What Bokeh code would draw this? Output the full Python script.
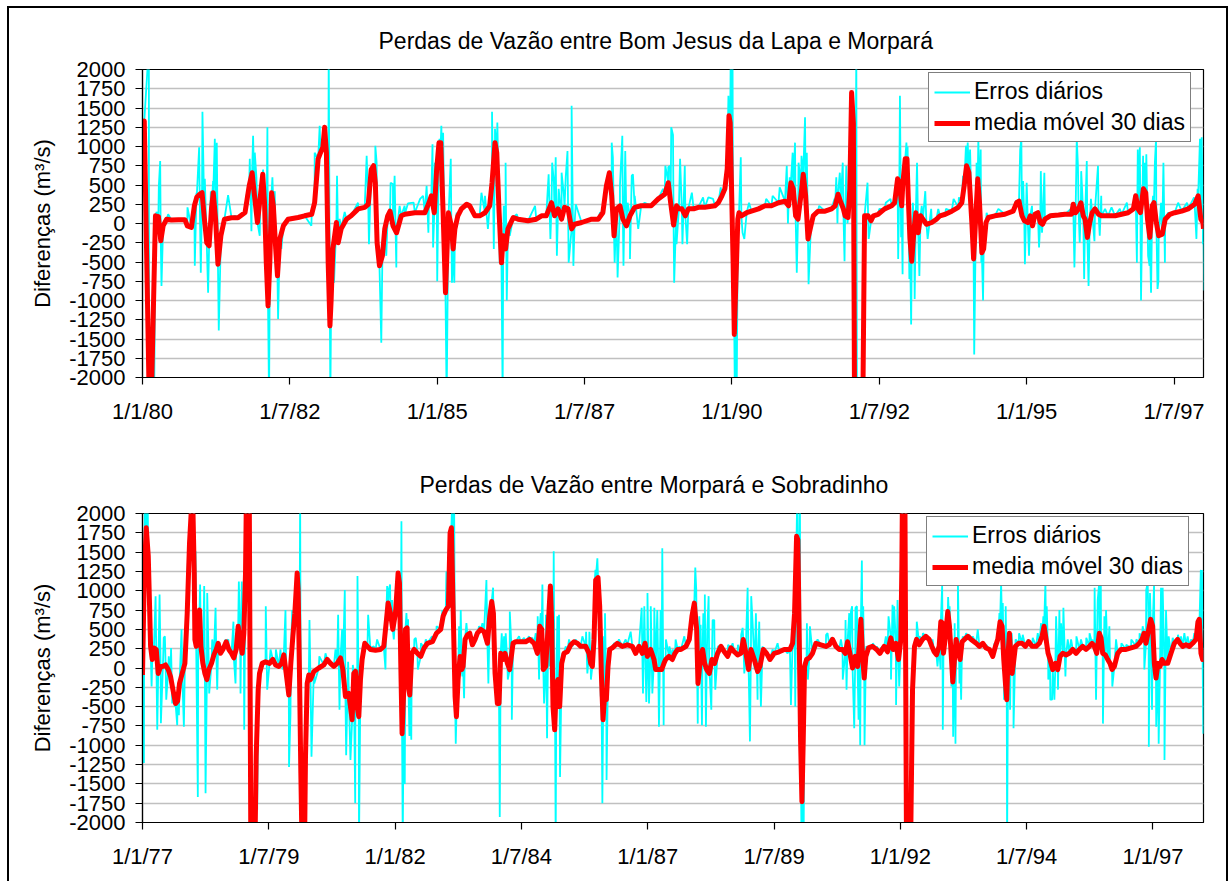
from bokeh.plotting import figure
from bokeh.models import FixedTicker, Legend, LegendItem
from bokeh.layouts import column
from bokeh.embed import file_html
from bokeh.resources import INLINE

# ---------------- data (decimal years, m3/s) ----------------
top_title = "Perdas de Vazão entre Bom Jesus da Lapa e Morpará"
bot_title = "Perdas de Vazão entre Morpará e Sobradinho"
series_daily = "Erros diários"
series_ma = "media móvel 30 dias"
y_label = "Diferenças (m³/s)"

top_tick_years = [1980.0, 1982.5, 1985.0, 1987.5, 1990.0, 1992.5, 1995.0, 1997.5]
top_tick_labels = ["1/1/80", "1/7/82", "1/1/85", "1/7/87", "1/1/90", "1/7/92", "1/1/95", "1/7/97"]
bot_tick_years = [1977.0, 1979.5, 1982.0, 1984.5, 1987.0, 1989.5, 1992.0, 1994.5, 1997.0]
bot_tick_labels = ["1/1/77", "1/7/79", "1/1/82", "1/7/84", "1/1/87", "1/7/89", "1/1/92", "1/7/94", "1/1/97"]
y_ticks = [-2000, -1750, -1500, -1250, -1000, -750, -500, -250, 0, 250, 500, 750,
           1000, 1250, 1500, 1750, 2000]

# Bom Jesus da Lapa - Morpara : 30-day moving average
bjl_ma_year = [
    1980.00, 1980.03, 1980.11, 1980.15, 1980.22, 1980.27, 1980.31, 1980.35, 1980.41, 1980.49,
    1980.61, 1980.72, 1980.76, 1980.83, 1980.88, 1980.92, 1980.97, 1981.01, 1981.05, 1981.09,
    1981.13, 1981.17, 1981.20, 1981.24, 1981.28, 1981.33, 1981.39, 1981.51, 1981.62, 1981.74,
    1981.81, 1981.86, 1981.90, 1981.95, 1982.00, 1982.04, 1982.07, 1982.10, 1982.13, 1982.16,
    1982.19, 1982.22, 1982.26, 1982.29, 1982.33, 1982.39, 1982.47, 1982.64, 1982.75, 1982.87,
    1982.92, 1982.98, 1983.02, 1983.06, 1983.09, 1983.12, 1983.15, 1983.18, 1983.20, 1983.23,
    1983.29, 1983.32, 1983.37, 1983.46, 1983.54, 1983.66, 1983.77, 1983.83, 1983.88, 1983.92,
    1983.95, 1983.98, 1984.02, 1984.07, 1984.11, 1984.16, 1984.20, 1984.25, 1984.31, 1984.39,
    1984.45, 1984.62, 1984.79, 1984.86, 1984.90, 1984.95, 1984.99, 1985.03, 1985.06, 1985.10,
    1985.14, 1985.19, 1985.24, 1985.27, 1985.30, 1985.35, 1985.41, 1985.50, 1985.55, 1985.64,
    1985.72, 1985.81, 1985.89, 1985.93, 1985.98, 1986.01, 1986.05, 1986.09, 1986.12, 1986.16,
    1986.20, 1986.29, 1986.37, 1986.54, 1986.68, 1986.77, 1986.85, 1986.94, 1986.99, 1987.05,
    1987.11, 1987.16, 1987.22, 1987.28, 1987.33, 1987.45, 1987.62, 1987.73, 1987.81, 1987.87,
    1987.92, 1987.96, 1988.00, 1988.04, 1988.10, 1988.15, 1988.21, 1988.27, 1988.35, 1988.46,
    1988.63, 1988.75, 1988.86, 1988.92, 1988.96, 1989.01, 1989.06, 1989.10, 1989.15, 1989.21,
    1989.26, 1989.35, 1989.43, 1989.54, 1989.71, 1989.77, 1989.83, 1989.88, 1989.92, 1989.95,
    1989.97, 1989.99, 1990.02, 1990.04, 1990.06, 1990.10, 1990.12, 1990.16, 1990.25, 1990.33,
    1990.45, 1990.56, 1990.67, 1990.79, 1990.90, 1990.96, 1991.00, 1991.04, 1991.08, 1991.12,
    1991.17, 1991.21, 1991.25, 1991.29, 1991.34, 1991.38, 1991.46, 1991.58, 1991.69, 1991.75,
    1991.80, 1991.85, 1991.89, 1991.92, 1991.97, 1992.00, 1992.03, 1992.06, 1992.08, 1992.22,
    1992.25, 1992.31, 1992.36, 1992.40, 1992.48, 1992.59, 1992.71, 1992.76, 1992.81, 1992.84,
    1992.88, 1992.90, 1992.94, 1992.97, 1992.99, 1993.02, 1993.05, 1993.09, 1993.12, 1993.16,
    1993.20, 1993.24, 1993.30, 1993.39, 1993.47, 1993.53, 1993.62, 1993.73, 1993.84, 1993.90,
    1993.94, 1993.98, 1994.02, 1994.07, 1994.10, 1994.14, 1994.17, 1994.20, 1994.24, 1994.27,
    1994.31, 1994.35, 1994.46, 1994.63, 1994.77, 1994.83, 1994.87, 1994.92, 1994.96, 1995.02,
    1995.06, 1995.10, 1995.14, 1995.19, 1995.23, 1995.27, 1995.31, 1995.40, 1995.54, 1995.65,
    1995.76, 1995.79, 1995.83, 1995.88, 1995.92, 1995.96, 1995.99, 1996.03, 1996.07, 1996.11,
    1996.16, 1996.22, 1996.27, 1996.38, 1996.50, 1996.61, 1996.72, 1996.81, 1996.85, 1996.89,
    1996.93, 1996.98, 1997.02, 1997.05, 1997.09, 1997.13, 1997.16, 1997.20, 1997.24, 1997.30,
    1997.35, 1997.43, 1997.51, 1997.63, 1997.74, 1997.85, 1997.91, 1997.955, 1997.99, 1998.00]
bjl_ma_value = [
    750, 1330, -2100, -2300, 100, 90, -225, -30, 56, 45,
    50, 50, -30, -50, 230, 340, 380, 400, 60, -250,
    -290, 190, 400, 60, -530, -160, 56, 75, 75, 143,
    490, 660, 360, 13, 360, 640, 270, -510, -1070, -500,
    400, 230, -330, -680, -200, -30, 56, 78, 100, 120,
    270, 840, 920, 990, 1250, 920, -510, -1330, -1000, -330,
    13, -250, -70, 56, 100, 190, 210, 250, 700, 750,
    530, -250, -550, -420, -70, 100, 160, -30, -120, 100,
    120, 140, 140, 270, 360, 140, 700, 1050, 1050, 140,
    -900, 140, -30, -330, -70, 100, 190, 250, 230, 100,
    100, 140, 230, 530, 1050, 920, 140, -510, -160, -330,
    -70, 78, 56, 35, 56, 100, 100, 270, 100, 190,
    56, 210, 190, -70, -10, 13, 56, 56, 140, 490,
    660, 360, -160, 190, 230, 56, -30, 100, 210, 230,
    230, 320, 380, 530, 270, -20, 230, 190, 190, 100,
    190, 190, 210, 210, 230, 270, 360, 450, 710, 1400,
    1310, 580, -510, -1440, -940, 56, 140, 100, 140, 160,
    190, 230, 230, 270, 290, 230, 530, 450, 100, 56,
    360, 640, 360, -200, -30, 100, 160, 160, 190, 230,
    380, 270, 190, 100, 78, 450, 1700, 1300, -2400, -2400,
    100, 100, 35, 100, 120, 190, 230, 270, 580, 530,
    230, 530, 840, 840, 360, -200, -490, -70, 140, -120,
    100, 56, -10, 13, 56, 100, 120, 160, 210, 270,
    490, 750, 660, 13, -460, 140, 580, 270, -380, -330,
    13, 78, 100, 120, 160, 270, 290, 100, 35, 13,
    100, -30, 120, 140, 13, -10, 56, 100, 110, 120,
    120, 250, 140, 190, 270, 100, 56, -180, 13, 140,
    190, 120, 100, 100, 100, 120, 140, 190, 360, 190,
    140, 450, 400, 56, -180, 230, 270, 13, -160, -140,
    56, 120, 140, 160, 190, 250, 360, 56, 13, -70]

# Bom Jesus da Lapa - Morpara : daily error peaks / troughs
bjl_day_year = [
    1980.108, 1980.198, 1980.238, 1980.277, 1980.300, 1980.322, 1980.379, 1980.435, 1980.763, 1980.887,
    1980.916, 1980.961, 1980.989, 1981.017, 1981.057, 1981.113, 1981.159, 1981.198, 1981.227, 1981.260,
    1981.294, 1981.452, 1981.566, 1981.763, 1981.820, 1981.848, 1981.876, 1981.905, 1981.933, 1981.989,
    1982.046, 1982.119, 1982.147, 1982.204, 1982.244, 1982.300, 1982.356, 1982.413, 1982.526, 1982.865,
    1982.921, 1983.006, 1983.034, 1983.159, 1983.187, 1983.249, 1983.300, 1983.345, 1983.430, 1983.656,
    1983.803, 1983.842, 1983.950, 1983.972, 1984.006, 1984.051, 1984.136, 1984.209, 1984.249, 1984.277,
    1984.306, 1984.362, 1984.447, 1984.503, 1984.60, 1984.71, 1984.76, 1984.82, 1984.85, 1984.92,
    1984.93, 1984.96, 1985.00, 1985.04, 1985.07, 1985.10, 1985.13, 1985.16, 1985.19, 1985.23,
    1985.25, 1985.29, 1985.33, 1985.47, 1985.75, 1985.81, 1985.86, 1985.93, 1985.96, 1985.98,
    1986.02, 1986.06, 1986.11, 1986.13, 1986.16, 1986.18, 1986.23, 1986.35, 1986.66, 1986.89,
    1986.92, 1986.95, 1986.98, 1987.01, 1987.03, 1987.06, 1987.11, 1987.15, 1987.18, 1987.21,
    1987.23, 1987.28, 1987.31, 1987.35, 1987.76, 1987.84, 1987.91, 1987.96, 1987.98, 1988.01,
    1988.06, 1988.10, 1988.14, 1988.16, 1988.19, 1988.23, 1988.27, 1988.30, 1988.32, 1988.35,
    1988.41, 1988.52, 1988.83, 1988.87, 1988.92, 1988.95, 1988.97, 1989.00, 1989.02, 1989.06,
    1989.12, 1989.16, 1989.20, 1989.24, 1989.32, 1989.51, 1989.60, 1989.68, 1989.81, 1989.94,
    1989.98, 1990.01, 1990.05, 1990.08, 1990.11, 1990.15, 1990.18, 1990.21, 1990.29, 1990.58,
    1990.69, 1990.81, 1990.93, 1990.95, 1990.98, 1991.03, 1991.07, 1991.10, 1991.13, 1991.15,
    1991.18, 1991.24, 1991.27, 1991.30, 1991.48, 1991.63, 1991.74, 1991.77, 1991.79, 1991.83,
    1991.86, 1991.88, 1991.91, 1991.94, 1991.96, 1992.015, 1992.11, 1992.12, 1992.30, 1992.32,
    1992.37, 1992.50, 1992.61, 1992.69, 1992.77, 1992.82, 1992.85, 1992.87, 1992.895, 1992.93,
    1992.96, 1992.98, 1993.01, 1993.04, 1993.07, 1993.10, 1993.14, 1993.18, 1993.22, 1993.28,
    1993.32, 1993.38, 1993.50, 1993.63, 1993.76, 1993.85, 1993.92, 1993.97, 1994.00, 1994.04,
    1994.08, 1994.11, 1994.15, 1994.18, 1994.22, 1994.23, 1994.26, 1994.32, 1994.52, 1994.82,
    1994.89, 1994.91, 1994.94, 1994.97, 1995.00, 1995.04, 1995.09, 1995.21, 1995.24, 1995.26,
    1995.30, 1995.42, 1995.59, 1995.75, 1995.81, 1995.85, 1995.87, 1995.90, 1995.925, 1995.94,
    1995.975, 1996.02, 1996.05, 1996.09, 1996.15, 1996.21, 1996.24, 1996.265, 1996.33, 1996.44,
    1996.58, 1996.70, 1996.83, 1996.87, 1996.885, 1996.92, 1996.94, 1996.975, 1997.00, 1997.03,
    1997.06, 1997.085, 1997.11, 1997.145, 1997.175, 1997.195, 1997.22, 1997.235, 1997.28, 1997.32,
    1997.345, 1997.40, 1997.57, 1997.72, 1997.84, 1997.88, 1997.90, 1997.94, 1997.97, 1997.99,
    1998.01]
bjl_day_value = [
    2300, -2300, 150, 490, 810, -810, 50, 120, 210, -550,
    400, 990, -640, 1450, 580, -900, 420, 550, 1100, 1050,
    -1390, 370, 100, 360, 840, -100, 1140, 920, 600, -160,
    700, 1250, -2300, 600, 420, -1240, -330, 0, 60, -30,
    920, 1270, 1100, 2300, -2300, -770, 620, 60, 150, 270,
    880, -270, 1010, 790, -300, -1550, -420, 530, 510, 620,
    -570, 230, 230, 260, 270, 320, 360, 490, -120, 1030,
    -310, 790, -750, 1100, 1270, 1180, -720, -2300, 50, 840,
    -770, -770, 140, 250, 400, 360, -70, 1450, -330, 1230,
    1310, -510, -2300, 230, 790, -1000, -160, 120, 230, 640,
    -200, 790, 530, 860, -420, 450, 660, 360, 600, 940,
    -510, 1530, -550, 250, 140, 360, 660, 1050, 860, -510,
    -700, 490, 1140, -550, 940, 270, -460, 620, 640, 360,
    -70, 270, 450, 750, 730, 750, 1250, 1150, -770, -270,
    840, -270, 750, -270, 400, 340, 340, 320, 470, 1660,
    2300, 2300, -2300, -2300, 60, 860, -120, -200, 270, 320,
    360, 470, 750, 0, 600, 920, 1050, -640, 790, 660,
    880, 1380, 920, -790, 230, 190, 320, 600, 0, 660,
    490, 790, -490, 750, 0, 400, 2300, -2300, 530, -200,
    100, 190, 270, 320, 450, -460, 1660, -180, -660, 840,
    1050, 1000, -720, -1310, 270, -980, 790, -680, 230, 420,
    -200, 190, 190, 190, 320, 340, 620, 1010, 1050, 960,
    -460, -1700, 790, 1100, 960, -510, -1000, 140, 190, 300,
    960, 1100, 550, -530, 530, -420, 230, -310, 680, -120,
    660, 120, 140, 190, -570, 1100, 750, -250, 680, 450,
    -720, 810, -810, 320, -230, 750, -160, 360, 190, 210,
    190, 270, 360, -510, 960, 990, -1000, 880, 790, 900,
    -420, -550, -900, 360, 790, 1100, -850, -750, 270, 790,
    -510, 140, 270, 270, 340, -200, 450, 1100, 1120, -270,
    -870]

# Morpara - Sobradinho : 30-day moving average
mor_ma_year = [
    1977.000, 1977.035, 1977.074, 1977.114, 1977.140, 1977.160, 1977.193, 1977.226, 1977.272, 1977.311,
    1977.358, 1977.404, 1977.457, 1977.509, 1977.555, 1977.602, 1977.654, 1977.694, 1977.733, 1977.786,
    1977.839, 1977.885, 1977.931, 1977.971, 1977.997, 1978.024, 1978.037, 1978.063, 1978.103, 1978.129,
    1978.156, 1978.195, 1978.235, 1978.274, 1978.314, 1978.366, 1978.413, 1978.459, 1978.498, 1978.545,
    1978.591, 1978.657, 1978.709, 1978.762, 1978.808, 1978.854, 1978.894, 1978.933, 1978.973, 1979.006,
    1979.039, 1979.059, 1979.112, 1979.145, 1979.224, 1979.250, 1979.290, 1979.316, 1979.369, 1979.435,
    1979.514, 1979.580, 1979.633, 1979.698, 1979.751, 1979.797, 1979.844, 1979.896, 1979.936, 1979.976,
    1980.015, 1980.061, 1980.081, 1980.107, 1980.134, 1980.160, 1980.206, 1980.226, 1980.259, 1980.292,
    1980.325, 1980.391, 1980.490, 1980.589, 1980.655, 1980.721, 1980.787, 1980.853, 1980.919, 1980.965,
    1981.017, 1981.083, 1981.149, 1981.182, 1981.215, 1981.248, 1981.281, 1981.314, 1981.347, 1981.400,
    1981.453, 1981.512, 1981.611, 1981.710, 1981.776, 1981.822, 1981.861, 1981.908, 1981.954, 1982.007,
    1982.059, 1982.086, 1982.112, 1982.138, 1982.171, 1982.204, 1982.237, 1982.264, 1982.290, 1982.330,
    1982.376, 1982.442, 1982.508, 1982.574, 1982.640, 1982.739, 1982.818, 1982.903, 1982.950, 1983.002,
    1983.055, 1983.088, 1983.114, 1983.147, 1983.187, 1983.213, 1983.246, 1983.286, 1983.319, 1983.345,
    1983.385, 1983.431, 1983.477, 1983.530, 1983.583, 1983.629, 1983.695, 1983.761, 1983.827, 1983.873,
    1983.912, 1983.945, 1983.978, 1984.024, 1984.057, 1984.090, 1984.137, 1984.176, 1984.222, 1984.268,
    1984.308, 1984.334, 1984.387, 1984.486, 1984.585, 1984.664, 1984.750, 1984.816, 1984.862, 1984.901,
    1984.934, 1984.981, 1985.033, 1985.073, 1985.099, 1985.125, 1985.158, 1985.191, 1985.224, 1985.257,
    1985.297, 1985.343, 1985.409, 1985.475, 1985.541, 1985.607, 1985.673, 1985.772, 1985.838, 1985.871,
    1985.904, 1985.937, 1985.970, 1986.016, 1986.049, 1986.082, 1986.115, 1986.148, 1986.181, 1986.214,
    1986.247, 1986.299, 1986.398, 1986.497, 1986.596, 1986.695, 1986.761, 1986.827, 1986.893, 1986.946,
    1986.992, 1987.058, 1987.124, 1987.157, 1987.209, 1987.275, 1987.321, 1987.354, 1987.420, 1987.486,
    1987.539, 1987.592, 1987.658, 1987.757, 1987.823, 1987.875, 1987.922, 1987.968, 1987.994, 1988.034,
    1988.086, 1988.126, 1988.166, 1988.218, 1988.271, 1988.324, 1988.383, 1988.449, 1988.515, 1988.581,
    1988.647, 1988.713, 1988.779, 1988.845, 1988.891, 1988.944, 1988.996, 1989.043, 1989.109, 1989.175,
    1989.221, 1989.287, 1989.353, 1989.419, 1989.504, 1989.603, 1989.702, 1989.814, 1989.867, 1989.906,
    1989.946, 1989.972, 1989.999, 1990.025, 1990.052, 1990.078, 1990.104, 1990.144, 1990.197, 1990.262,
    1990.328, 1990.427, 1990.526, 1990.592, 1990.658, 1990.724, 1990.790, 1990.856, 1990.909, 1990.955,
    1991.001, 1991.054, 1991.107, 1991.153, 1991.186, 1991.219, 1991.252, 1991.285, 1991.317, 1991.370,
    1991.449, 1991.529, 1991.595, 1991.680, 1991.746, 1991.812, 1991.858, 1991.911, 1991.964, 1992.010,
    1992.030, 1992.043, 1992.089, 1992.122, 1992.201, 1992.241, 1992.280, 1992.320, 1992.373, 1992.438,
    1992.504, 1992.570, 1992.623, 1992.669, 1992.715, 1992.768, 1992.801, 1992.834, 1992.853, 1992.893,
    1992.939, 1992.972, 1993.005, 1993.038, 1993.071, 1993.104, 1993.137, 1993.183, 1993.222, 1993.269,
    1993.335, 1993.400, 1993.499, 1993.565, 1993.631, 1993.697, 1993.763, 1993.829, 1993.882, 1993.928,
    1993.974, 1994.014, 1994.047, 1994.080, 1994.106, 1994.132, 1994.159, 1994.185, 1994.212, 1994.238,
    1994.277, 1994.343, 1994.409, 1994.475, 1994.541, 1994.607, 1994.686, 1994.752, 1994.805, 1994.845,
    1994.884, 1994.924, 1994.963, 1995.016, 1995.069, 1995.115, 1995.161, 1995.214, 1995.280, 1995.346,
    1995.412, 1995.478, 1995.544, 1995.609, 1995.675, 1995.741, 1995.794, 1995.840, 1995.886, 1995.939,
    1995.972, 1996.005, 1996.058, 1996.104, 1996.150, 1996.190, 1996.236, 1996.302, 1996.368, 1996.467,
    1996.566, 1996.665, 1996.730, 1996.783, 1996.823, 1996.862, 1996.915, 1996.955, 1996.994, 1997.027,
    1997.060, 1997.100, 1997.139, 1997.179, 1997.225, 1997.291, 1997.357, 1997.423, 1997.489, 1997.535,
    1997.588, 1997.654, 1997.720, 1997.786, 1997.852, 1997.891, 1997.917, 1997.950, 1997.983, 1998.010]
mor_ma_value = [
    -90, 1200, 1815, 1450, 800, 280, 110, 260, 240, -70,
    20, 20, 40, -20, -110, -280, -460, -430, -200, -70,
    60, 710, 1620, 2100, 2100, 1230, 370, 280, 410, 750,
    280, 60, -70, -150, -20, 60, 170, 240, 320, 190,
    240, 340, 240, 190, 130, 240, 540, 370, 190, 450,
    1230, 2400, 2400, -2400, -2400, -1150, -280, -70, 60, 80,
    60, 110, 40, 20, 60, 170, -70, -350, 60, 410,
    710, 1230, 1010, -70, -1360, -2400, -2400, -1150, -200, -90,
    -150, -45, 0, 40, 110, 60, 20, 60, 130, -20,
    -370, -330, -670, -70, -45, -500, -630, -150, 110, 320,
    280, 240, 230, 240, 280, 580, 840, 710, 500, 710,
    1230, 1100, 60, -850, -280, 500, 520, -240, -350, 190,
    240, 190, 150, 260, 320, 340, 450, 500, 670, 750,
    800, 1750, 1815, 800, -370, -630, -150, 150, -20, 20,
    370, 430, 450, 300, 370, 450, 500, 470, 320, 670,
    860, 710, -70, -460, -460, 190, 110, 190, 60, -20,
    190, 320, 340, 340, 340, 370, 320, 190, 540, 500,
    -20, 20, 580, 1060, 580, -500, -800, -200, -150, -500,
    60, 190, 210, 300, 340, 320, 280, 280, 190, 60,
    20, 370, 1140, 1170, 800, -70, -670, -330, -410, 20,
    240, 260, 320, 280, 300, 280, 190, 280, 190, 320,
    150, 240, 110, -20, -20, -20, 60, 110, 150, 110,
    190, 240, 240, 280, 370, 670, 840, 500, -200, 60,
    240, 60, -20, -70, 110, 60, 190, 280, 210, 150,
    260, 210, 170, 190, 370, 190, -20, 240, 110, -45,
    20, 240, 190, 110, 190, 210, 240, 240, 320, 710,
    1705, 1660, 370, -930, -1730, -930, 20, 110, 130, 190,
    320, 300, 280, 300, 370, 280, 240, 240, 190, 340,
    190, 0, 150, 20, 280, 630, 150, -130, 150, 260,
    280, 240, 190, 280, 210, 390, 240, 320, 110, 370,
    1320, 2400, 2400, -2400, -2400, -280, 280, 370, 300, 370,
    410, 370, 280, 210, 170, 280, 600, 580, 190, 410,
    730, 540, 190, -180, 110, 370, 240, 110, 340, 370,
    410, 370, 320, 280, 320, 260, 240, 150, 280, 370,
    600, 540, 110, -200, -410, 190, 450, 190, -70, 60,
    280, 320, 320, 280, 340, 280, 280, 320, 410, 540,
    370, 190, 110, -20, 60, -20, 150, 190, 170, 190,
    240, 190, 240, 280, 240, 280, 320, 280, 190, 450,
    390, 190, 170, 110, 60, -20, 20, 190, 240, 240,
    260, 280, 320, 370, 450, 320, 500, 630, 540, 60,
    -130, 60, 20, 110, 60, 60, 190, 320, 370, 320,
    280, 300, 280, 320, 370, 600, 630, 190, 110, 240]

# Morpara - Sobradinho : daily error peaks / troughs
mor_day_year = [
    1977.028, 1977.048, 1977.100, 1977.180, 1977.259, 1977.292, 1977.338, 1977.364, 1977.420, 1977.443,
    1977.470, 1977.520, 1977.565, 1977.588, 1977.641, 1977.687, 1977.720, 1977.773, 1977.819, 1977.895,
    1977.918, 1977.951, 1978.017, 1978.050, 1978.095, 1978.140, 1978.182, 1978.221, 1978.248, 1978.281,
    1978.320, 1978.380, 1978.446, 1978.479, 1978.550, 1978.643, 1978.700, 1978.800, 1978.841, 1978.907,
    1978.940, 1978.965, 1979.013, 1979.045, 1979.270, 1979.303, 1979.402, 1979.440, 1979.468, 1979.534,
    1979.640, 1979.731, 1979.778, 1979.830, 1979.870, 1979.900, 1979.929, 1979.962, 1979.995, 1980.028,
    1980.050, 1980.120, 1980.147, 1980.255, 1980.305, 1980.345, 1980.400, 1980.500, 1980.622, 1980.820,
    1980.872, 1980.899, 1980.951, 1981.004, 1981.031, 1981.070, 1981.116, 1981.163, 1981.210, 1981.255,
    1981.285, 1981.360, 1981.413, 1981.466, 1981.520, 1981.578, 1981.644, 1981.809, 1981.842, 1981.875,
    1981.900, 1981.941, 1981.974, 1982.020, 1982.072, 1982.125, 1982.151, 1982.191, 1982.224, 1982.257,
    1982.283, 1982.320, 1982.380, 1982.409, 1982.450, 1982.510, 1982.607, 1982.730, 1982.820, 1982.936,
    1983.015, 1983.060, 1983.134, 1983.167, 1983.200, 1983.233, 1983.266, 1983.299, 1983.332, 1983.365,
    1983.411, 1983.464, 1983.540, 1983.596, 1983.662, 1983.728, 1983.807, 1983.846, 1983.893, 1983.939,
    1983.970, 1984.030, 1984.071, 1984.110, 1984.156, 1984.189, 1984.230, 1984.270, 1984.310, 1984.354,
    1984.453, 1984.552, 1984.651, 1984.717, 1984.783, 1984.822, 1984.849, 1984.882, 1984.915, 1984.948,
    1984.985, 1985.007, 1985.047, 1985.086, 1985.139, 1985.165, 1985.178, 1985.211, 1985.244, 1985.264,
    1985.310, 1985.376, 1985.442, 1985.508, 1985.574, 1985.640, 1985.706, 1985.780, 1985.805, 1985.845,
    1985.875, 1985.910, 1985.940, 1985.965, 1986.003, 1986.036, 1986.069, 1986.102, 1986.134, 1986.154,
    1986.185, 1986.220, 1986.266, 1986.332, 1986.431, 1986.563, 1986.662, 1986.728, 1986.830, 1986.880,
    1986.906, 1986.932, 1986.972, 1986.995, 1987.025, 1987.060, 1987.091, 1987.130, 1987.189, 1987.222,
    1987.255, 1987.288, 1987.315, 1987.360, 1987.430, 1987.490, 1987.552, 1987.625, 1987.724, 1987.790,
    1987.856, 1987.902, 1987.941, 1987.960, 1987.990, 1988.021, 1988.047, 1988.073, 1988.100, 1988.130,
    1988.152, 1988.179, 1988.205, 1988.231, 1988.258, 1988.284, 1988.317, 1988.337, 1988.390, 1988.482,
    1988.590, 1988.680, 1988.785, 1988.850, 1988.878, 1988.911, 1988.950, 1988.977, 1989.000, 1989.023,
    1989.048, 1989.076, 1989.115, 1989.141, 1989.174, 1989.207, 1989.240, 1989.273, 1989.339, 1989.471,
    1989.570, 1989.669, 1989.768, 1989.834, 1989.880, 1989.920, 1989.960, 1990.012, 1990.045, 1990.085,
    1990.150, 1990.170, 1990.210, 1990.270, 1990.361, 1990.460, 1990.530, 1990.559, 1990.625, 1990.691,
    1990.757, 1990.823, 1990.860, 1990.915, 1990.935, 1990.988, 1991.021, 1991.045, 1991.087, 1991.112,
    1991.140, 1991.173, 1991.205, 1991.238, 1991.265, 1991.291, 1991.325, 1991.383, 1991.455, 1991.535,
    1991.614, 1991.713, 1991.766, 1991.815, 1991.845, 1991.878, 1991.915, 1991.944, 1991.977, 1992.016,
    1992.105, 1992.142, 1992.228, 1992.274, 1992.325, 1992.380, 1992.445, 1992.510, 1992.636, 1992.702,
    1992.735, 1992.795, 1992.827, 1992.840, 1992.906, 1992.945, 1992.975, 1993.010, 1993.045, 1993.075,
    1993.091, 1993.140, 1993.170, 1993.203, 1993.236, 1993.302, 1993.367, 1993.433, 1993.532, 1993.700,
    1993.796, 1993.862, 1993.935, 1993.961, 1993.994, 1994.027, 1994.052, 1994.085, 1994.113, 1994.140,
    1994.172, 1994.205, 1994.240, 1994.280, 1994.350, 1994.422, 1994.521, 1994.620, 1994.719, 1994.785,
    1994.831, 1994.871, 1994.897, 1994.928, 1994.968, 1995.003, 1995.049, 1995.082, 1995.120, 1995.148,
    1995.181, 1995.227, 1995.267, 1995.313, 1995.379, 1995.485, 1995.576, 1995.680, 1995.745, 1995.800,
    1995.845, 1995.873, 1995.906, 1995.935, 1995.968, 1996.010, 1996.038, 1996.071, 1996.137, 1996.195,
    1996.269, 1996.375, 1996.470, 1996.570, 1996.670, 1996.735, 1996.796, 1996.829, 1996.866, 1996.895,
    1996.918, 1996.941, 1996.981, 1997.022, 1997.064, 1997.113, 1997.159, 1997.192, 1997.228, 1997.258,
    1997.311, 1997.390, 1997.495, 1997.555, 1997.621, 1997.687, 1997.753, 1997.818, 1997.865, 1997.920,
    1997.947, 1997.970, 1997.996]
mor_day_value = [
    -1230, 2300, 2300, -240, 930, -800, 950, -715, 390, 410,
    -410, 150, 260, -460, -500, -740, -610, 500, -760, 1320,
    1660, 2300, 2300, 1510, -1670, 1080, 500, 1060, -1620, 970,
    -330, 370, 780, -280, 280, 370, 370, 600, -200, 1120,
    -330, 1120, -800, 2300, -1840, -580, 60, 800, -280, 240,
    240, 240, -20, 750, -170, -1280, -590, 750, 450, 670,
    1010, 2300, -2300, -1100, 620, -1150, -200, 150, 190, 240,
    690, -540, 500, 1010, -1130, 80, -1190, 40, -1750, 1190,
    -2300, 280, 340, 690, 260, 280, 370, -20, 1060, 1010,
    1080, 880, 370, 800, 930, 1900, -2300, -1500, 710, 630,
    -880, -930, 370, 390, -20, 320, 370, 410, 540, 750,
    1250, 1530, 2300, 2300, -980, -500, 540, 750, -110, -390,
    580, 450, 360, 450, 540, 580, 1140, -200, 800, 1040,
    710, -200, -1930, 450, 410, 450, -150, 730, -670, 320,
    410, 390, 410, 390, 450, 670, -150, 710, 1080, -460,
    690, -910, 20, 750, 1510, -500, -2300, 670, 690, -1410,
    190, 280, 370, 280, 370, 280, 410, 470, -70, 470,
    -150, 450, 1010, 1270, 1420, 1100, -370, -1750, 410, 710,
    -1450, 20, 240, 320, 370, 370, 470, 240, 320, 780,
    -330, 800, -440, 970, -460, 800, -330, 780, 750, -760,
    750, 1550, -740, 370, 280, 240, 370, 280, 410, 370,
    560, 670, 1300, 1020, -720, 670, 560, -740, 710, 950,
    -760, 500, 930, -150, -540, 620, 620, -280, 280, 280,
    300, 320, 300, 430, 520, -70, 450, 1040, -110, -950,
    930, 580, -20, 710, -410, 600, -500, 280, 190, 240,
    320, 210, 190, -480, 750, -500, 2300, 2300, -2300, -2300,
    580, -150, 540, 280, 370, 280, 430, 450, 390, 340,
    280, 370, -150, 620, -280, 710, 730, 800, -780, 780,
    800, -670, -1000, 1390, 800, -1000, 280, 280, 320, 280,
    260, 410, 670, -150, 820, 800, -480, 880, -240, 800,
    2300, -2300, -930, 280, 600, 410, 450, 430, 370, 240,
    20, -20, 1060, -800, 710, 920, 800, -240, -890, 580,
    -980, 1100, -200, -410, 410, 450, 430, 410, 500, 300,
    240, 320, 410, 710, 1100, 840, -410, 800, -2300, 190,
    -540, 450, -780, 370, 450, 430, 370, 390, 450, 580,
    670, 1100, 800, -150, -410, -410, -410, 670, -280, 750,
    580, 780, -110, 370, 370, 410, 370, 390, 450, 370,
    1040, -410, 880, 1100, 1060, -720, 670, 750, 540, -240,
    370, 320, 300, 370, 370, 450, 540, -20, 1010, 1100,
    -1020, 970, -540, 1100, -760, -980, 1040, 1040, -1190, 750,
    410, 390, 430, 410, 450, 410, 370, 450, 580, 580,
    1270, 1270, -850]

# ---------------- style ----------------
FONT = "Liberation Sans"
CYAN = "#00FFFF"
RED = "#FF0000"
FIG_W = 1217


def daily_series(ma_x, ma_y, day_x, day_y):
    pts = sorted(zip(list(ma_x) + list(day_x), list(ma_y) + list(day_y)), key=lambda t: t[0])
    return [t[0] for t in pts], [t[1] for t in pts]


def panel(title, ma_x, ma_y, day_x, day_y, x_start, x_end, ticks, labels,
          height, b_left, b_right, b_top, b_bottom, title_offset, legend_xy):
    p = figure(width=FIG_W, height=height, x_range=(x_start, x_end), y_range=(-2000, 2000),
               output_backend="svg", toolbar_location=None,
               min_border_left=b_left, min_border_right=b_right,
               min_border_top=b_top, min_border_bottom=b_bottom)
    p.title.text = title
    p.title.text_font = FONT
    p.title.text_font_size = "23px"
    p.title.text_font_style = "normal"
    p.title.text_color = "black"
    p.title.align = "left"
    p.title.offset = title_offset
    p.title.standoff = 31

    p.background_fill_color = "white"
    p.border_fill_color = "white"
    p.outline_line_color = "black"
    p.outline_line_width = 1.2

    p.xgrid.visible = False
    p.ygrid.ticker = FixedTicker(ticks=y_ticks)
    p.ygrid.grid_line_color = "#c0c0c0"
    p.ygrid.grid_line_width = 1.3

    xa = p.xaxis[0]
    xa.ticker = FixedTicker(ticks=ticks)
    xa.major_label_overrides = {t: l for t, l in zip(ticks, labels)}
    ya = p.yaxis[0]
    ya.ticker = FixedTicker(ticks=y_ticks)
    ya.major_label_overrides = {t: str(t) for t in y_ticks}
    ya.axis_label = y_label
    ya.axis_label_text_font = FONT
    ya.axis_label_text_font_size = "22px"
    ya.axis_label_text_font_style = "normal"
    ya.axis_label_text_color = "black"
    ya.axis_label_standoff = 11
    for ax in (xa, ya):
        ax.major_label_text_font = FONT
        ax.major_label_text_font_size = "22px"
        ax.major_label_text_color = "black"
        ax.axis_line_color = "black"
        ax.axis_line_width = 1.2
        ax.major_tick_line_color = "black"
        ax.major_tick_line_width = 1.2
        ax.major_tick_in = 0
        ax.major_tick_out = 7
        ax.minor_tick_line_color = None
    xa.major_label_standoff = 14
    ya.major_label_standoff = 10

    dx, dy = daily_series(ma_x, ma_y, day_x, day_y)
    r_day = p.line(dx, dy, line_color=CYAN, line_width=1.8)
    r_ma = p.line(ma_x, ma_y, line_color=RED, line_width=5, line_join="round")

    legend = Legend(items=[LegendItem(label=series_daily, renderers=[r_day]),
                           LegendItem(label=series_ma, renderers=[r_ma])],
                    location=legend_xy)
    legend.label_text_font = FONT
    legend.label_text_font_size = "23px"
    legend.label_text_color = "black"
    legend.border_line_color = "black"
    legend.border_line_width = 1.2
    legend.background_fill_color = "white"
    legend.background_fill_alpha = 1.0
    legend.glyph_width = 36
    legend.glyph_height = 20
    legend.label_height = 27
    legend.label_standoff = 4
    legend.spacing = 4
    legend.padding = 5
    legend.margin = 0
    p.add_layout(legend)
    return p


p1 = panel(top_title, bjl_ma_year, bjl_ma_value, bjl_day_year, bjl_day_value,
           1980.0, 1998.0, top_tick_years, top_tick_labels,
           432, 133, 21, 61, 63, 236, (786, 235))
p2 = panel(bot_title, mor_ma_year, mor_ma_value, mor_day_year, mor_day_value,
           1977.0, 1998.0, bot_tick_years, bot_tick_labels,
           441, 133, 23, 73, 59, 277, (784, 236))

layout = column(p1, p2, spacing=0,
                styles={"margin-left": "7px", "margin-top": "6px",
                        "border-left": "2px solid black", "border-top": "2px solid black",
                        "border-right": "2px solid black"})

open("out.html", "w", encoding="utf-8").write(file_html(layout, INLINE, title=top_title))
